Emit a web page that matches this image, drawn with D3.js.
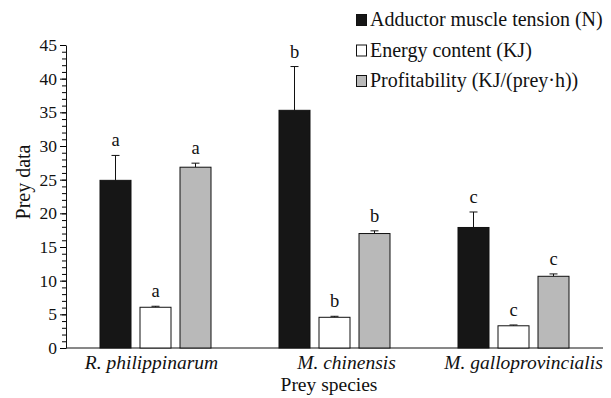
<!DOCTYPE html>
<meta charset="utf-8">
<style>
body { margin: 0; background: #fff; }
svg text { font-family: "Liberation Serif", Tinos, "Times New Roman", Times, "DejaVu Serif", serif; }
</style>
<body>
<script src="https://cdn.jsdelivr.net/npm/d3@7"></script>
<script>

var species = ["R. philippinarum", "M. chinensis", "M. galloprovincialis"];
var seriesNames = ["Adductor muscle tension (N)", "Energy content (KJ)", "Profitability (KJ/(prey\u00b7h))"];
var tension = [24.9, 35.3, 17.9];
var tensionErr = [3.7, 6.5, 2.3];
var energy = [6.05, 4.56, 3.3];
var energyErr = [0.15, 0.15, 0.12];
var profit = [26.85, 17.0, 10.65];
var profitErr = [0.6, 0.4, 0.35];
var letters = ["a", "b", "c"];
var yTicks = [0, 5, 10, 15, 20, 25, 30, 35, 40, 45];

var colors = ["#161616", "#ffffff", "#b9b9b9"];
var serif = "'Liberation Serif', Tinos, 'Times New Roman', Times, 'DejaVu Serif', serif";

var width = 611, height = 398;

var svg = d3.select("body").append("svg")
    .attr("width", width)
    .attr("height", height)
    .attr("font-family", serif);

var x0 = d3.scaleBand().domain(species).range([66, 603]);
var x1 = d3.scaleBand().domain(seriesNames).range([-60, 60])
    .paddingInner(0.2).paddingOuter(0.1);
var y = d3.scaleLinear().domain([0, 45]).range([348, 45]);

// build rows from the arrays
var means = [tension, energy, profit];
var errs = [tensionErr, energyErr, profitErr];
var bars = [];
species.forEach(function(s, i) {
  seriesNames.forEach(function(n, j) {
    bars.push({sp: s, series: n, k: j, val: means[j][i], err: errs[j][i], letter: letters[i]});
  });
});

// y axis with minor ticks
svg.append("g")
    .attr("transform", "translate(66,0)")
    .call(d3.axisLeft(y).tickValues(d3.range(0, 46, 1)).tickSize(4).tickFormat(""))
    .call(function(g) { g.select(".domain").remove(); });

svg.append("g")
    .attr("transform", "translate(66,0)")
    .call(d3.axisLeft(y).tickValues(yTicks).tickSize(6).tickSizeOuter(0).tickPadding(3))
    .call(function(g) {
      g.attr("font-family", serif);
      g.selectAll("text").attr("font-size", "17.5px").attr("fill", "#111");
      g.select(".domain").attr("stroke", "#111");
    });

// x axis line
svg.append("line")
    .attr("x1", 66).attr("x2", 603)
    .attr("y1", y(0)).attr("y2", y(0))
    .attr("stroke", "#111");

var gBar = svg.append("g").selectAll("g")
    .data(bars).enter().append("g")
    .attr("transform", function(d) {
      return "translate(" + (x0(d.sp) + x0.bandwidth() / 2 + x1(d.series)) + ",0)";
    });

// error bars (upper only)
gBar.append("line")
    .attr("x1", x1.bandwidth() / 2).attr("x2", x1.bandwidth() / 2)
    .attr("y1", function(d) { return y(d.val); })
    .attr("y2", function(d) { return y(d.val + d.err); })
    .attr("stroke", "#111");
gBar.append("line")
    .attr("x1", x1.bandwidth() / 2 - 4).attr("x2", x1.bandwidth() / 2 + 4)
    .attr("y1", function(d) { return y(d.val + d.err); })
    .attr("y2", function(d) { return y(d.val + d.err); })
    .attr("stroke", "#111");

gBar.append("rect")
    .attr("x", 0.5)
    .attr("width", x1.bandwidth() - 1)
    .attr("y", function(d) { return y(d.val); })
    .attr("height", function(d) { return y(0) - y(d.val); })
    .attr("fill", function(d) { return colors[d.k]; })
    .attr("stroke", "#111")
    .attr("stroke-width", 1);

gBar.append("text")
    .attr("x", x1.bandwidth() / 2)
    .attr("y", function(d) { return y(d.val + d.err) - 9; })
    .attr("text-anchor", "middle")
    .attr("font-size", "18.5px")
    .attr("fill", "#111")
    .text(function(d) { return d.letter; });

// species labels
var labelShift = [-4, 12, 10];
svg.append("g").selectAll("text")
    .data(species).enter().append("text")
    .attr("x", function(d, i) { return x0(d) + x0.bandwidth() / 2 + labelShift[i]; })
    .attr("y", 369)
    .attr("text-anchor", "middle")
    .attr("font-size", "19.5px")
    .attr("font-style", "italic")
    .attr("fill", "#111")
    .text(function(d) { return d; });

svg.append("text")
    .attr("x", 329).attr("y", 391)
    .attr("text-anchor", "middle")
    .attr("font-size", "19.5px")
    .attr("fill", "#111")
    .text("Prey species");

svg.append("text")
    .attr("transform", "translate(30,182)rotate(-90)")
    .attr("text-anchor", "middle")
    .attr("font-size", "20px")
    .attr("fill", "#111")
    .text("Prey data");

// legend
var leg = svg.append("g").selectAll("g")
    .data(seriesNames).enter().append("g")
    .attr("transform", function(d, i) { return "translate(356," + (26 + i * 30.5) + ")"; });
leg.append("rect")
    .attr("x", 0.5).attr("y", -11.5)
    .attr("width", 10).attr("height", 11)
    .attr("fill", function(d, i) { return colors[i]; })
    .attr("stroke", "#111");
leg.append("text")
    .attr("x", 14).attr("y", 0)
    .attr("font-size", "20px")
    .attr("fill", "#111")
    .text(function(d) { return d; });

</script>
</body>
</html>
